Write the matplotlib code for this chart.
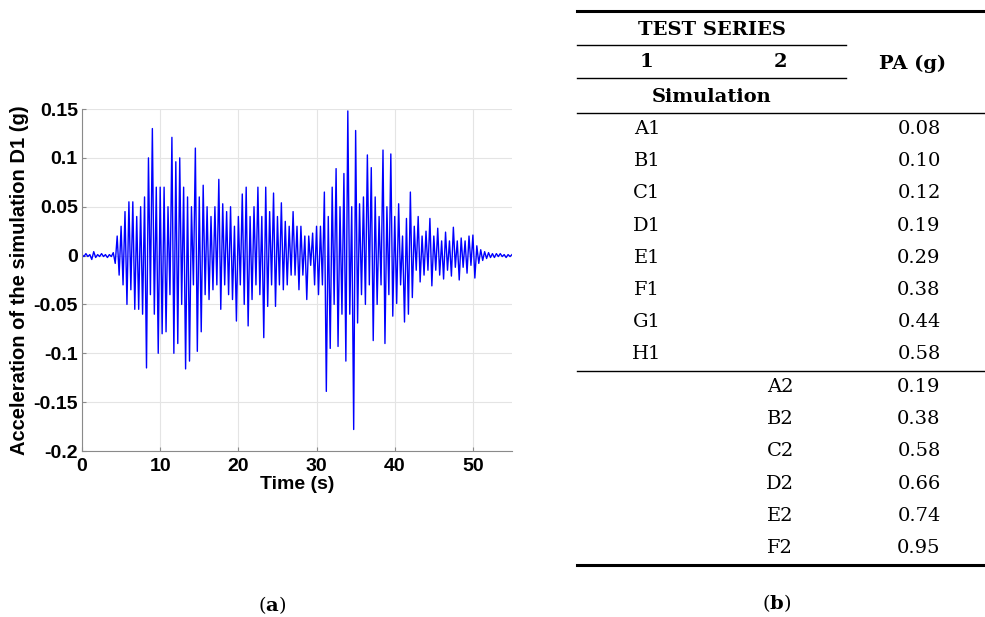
import numpy as np
import matplotlib.pyplot as plt
from matplotlib.lines import Line2D

plt.rcParams['mathtext.fontset'] = 'dejavuserif'

# Acceleration record of simulation D1 (g), one value every 0.25 s
DT = 0.25
accel = [
    0.001, -0.001, 0.002, -0.001, 0.001, -0.004, 0.004, -0.002, 0.001, -0.001,
    0.002, -0.001, 0.001, -0.002, 0.001, -0.001, 0.003, -0.008, 0.020, -0.020,
    0.030, -0.030, 0.045, -0.050, 0.055, -0.035, 0.055, -0.055, 0.040, -0.055,
    0.050, -0.060, 0.060, -0.115, 0.100, -0.040, 0.130, -0.060, 0.070, -0.100,
    0.070, -0.080, 0.070, -0.078, 0.050, -0.040, 0.121, -0.100, 0.096, -0.090,
    0.100, -0.050, 0.070, -0.116, 0.060, -0.108, 0.050, -0.030, 0.110, -0.098,
    0.060, -0.078, 0.072, -0.040, 0.050, -0.045, 0.040, -0.035, 0.050, -0.030,
    0.078, -0.055, 0.053, -0.030, 0.045, -0.040, 0.050, -0.045, 0.030, -0.067,
    0.040, -0.030, 0.063, -0.050, 0.070, -0.072, 0.040, -0.045, 0.050, -0.030,
    0.070, -0.040, 0.040, -0.084, 0.070, -0.052, 0.045, -0.030, 0.064, -0.052,
    0.040, -0.030, 0.054, -0.035, 0.035, -0.030, 0.030, -0.020, 0.045, -0.020,
    0.030, -0.035, 0.030, -0.020, 0.020, -0.045, 0.020, -0.010, 0.023, -0.030,
    0.030, -0.040, 0.030, -0.030, 0.065, -0.139, 0.040, -0.095, 0.070, -0.050,
    0.089, -0.093, 0.050, -0.060, 0.084, -0.108, 0.148, -0.060, 0.050, -0.178,
    0.128, -0.069, 0.053, -0.040, 0.060, -0.050, 0.103, -0.030, 0.090, -0.087,
    0.060, -0.050, 0.040, -0.030, 0.108, -0.090, 0.050, -0.040, 0.104, -0.062,
    0.040, -0.049, 0.053, -0.030, 0.020, -0.068, 0.038, -0.060, 0.065, -0.043,
    0.030, -0.015, 0.040, -0.027, 0.020, -0.020, 0.025, -0.015, 0.038, -0.031,
    0.020, -0.015, 0.028, -0.020, 0.015, -0.024, 0.024, -0.015, 0.015, -0.021,
    0.029, -0.012, 0.015, -0.025, 0.018, -0.012, 0.015, -0.018, 0.020, -0.010,
    0.021, -0.023, 0.010, -0.008, 0.006, -0.005, 0.004, -0.003, 0.003, -0.002,
    0.002, -0.002, 0.002, -0.001, 0.002, -0.001, 0.001, -0.002, 0.001, -0.001,
    0.001,
]
x_ticks = [0, 10, 20, 30, 40, 50]
y_ticks = [-0.2, -0.15, -0.1, -0.05, 0, 0.05, 0.1, 0.15]
y_tick_labels = ['-0.2', '-0.15', '-0.1', '-0.05', '0', '0.05', '0.1', '0.15']

# Test series table
series_1 = ['A1', 'B1', 'C1', 'D1', 'E1', 'F1', 'G1', 'H1']
series_2 = ['A2', 'B2', 'C2', 'D2', 'E2', 'F2']
pa_1 = [0.08, 0.10, 0.12, 0.19, 0.29, 0.38, 0.44, 0.58]
pa_2 = [0.19, 0.38, 0.58, 0.66, 0.74, 0.95]

W, H = 985, 617
fig = plt.figure(figsize=(W / 100, H / 100), dpi=100)


def fx(px):
    return px / W


def fy(py):
    return 1 - py / H


# ---- (a) acceleration time history ----
ax = fig.add_axes([fx(82), fy(451), fx(512) - fx(82), fy(109) - fy(451)])
t = np.arange(len(accel)) * DT
ax.plot(t, accel, color='#0000ff', lw=1.0)
ax.set_xlim(0, 55)
ax.set_ylim(-0.2, 0.15)
ax.set_xticks(x_ticks)
ax.set_yticks(y_ticks)
ax.set_yticklabels(y_tick_labels)
ax.grid(True, color='#e4e4e4', lw=0.8)
ax.set_axisbelow(True)
for side in ['top', 'right']:
    ax.spines[side].set_visible(False)
for side in ['left', 'bottom']:
    ax.spines[side].set_color('#8a8a8a')
    ax.spines[side].set_linewidth(0.8)
ax.tick_params(direction='in', length=3, color='#8a8a8a')
ax.tick_params(axis='x', pad=5)
ax.tick_params(axis='y', pad=3)
for lab in ax.get_xticklabels() + ax.get_yticklabels():
    lab.set_fontfamily('Liberation Sans')
    lab.set_fontweight('bold')
    lab.set_fontsize(14)
ax.set_xlabel('Time (s)', fontfamily='Liberation Sans', fontweight='bold',
              fontsize=14, labelpad=1)
ax.set_ylabel('Acceleration of the simulation D1 (g)', fontfamily='Liberation Sans',
              fontweight='bold', fontsize=14.5, labelpad=3)

# ---- (b) table of test series ----
serif = 'DejaVu Serif'
tsize = 14


def hline(y, x0, x1, lw):
    fig.add_artist(Line2D([fx(x0), fx(x1)], [fy(y), fy(y)], color='black', lw=lw))


def cell(x, y, s, bold=False):
    fig.text(fx(x), fy(y), s, ha='center', va='center', fontfamily=serif,
             fontsize=tsize, fontweight='bold' if bold else 'normal')


hline(11, 577, 985, 2.2)
hline(45, 577, 846, 1.0)
hline(78, 577, 846, 1.0)
hline(113, 577, 985, 1.0)
hline(371, 577, 985, 1.0)
hline(565, 577, 985, 2.2)

cell(712, 30, 'TEST SERIES', bold=True)
cell(646, 62, '1', bold=True)
cell(780, 62, '2', bold=True)
cell(913, 64, 'PA (g)', bold=True)
cell(712, 97, 'Simulation', bold=True)

row_y = 129
for name, pa in zip(series_1, pa_1):
    cell(647, row_y, name)
    cell(919, row_y, f'{pa:.2f}')
    row_y += 32.2
row_y = 387
for name, pa in zip(series_2, pa_2):
    cell(780, row_y, name)
    cell(919, row_y, f'{pa:.2f}')
    row_y += 32.2

# panel captions
fig.text(fx(272), fy(605), r'($\mathbf{a}$)', ha='center', va='center',
         fontfamily=serif, fontsize=14)
fig.text(fx(777), fy(603), r'($\mathbf{b}$)', ha='center', va='center',
         fontfamily=serif, fontsize=14)

fig.savefig('out.png', dpi=100)
